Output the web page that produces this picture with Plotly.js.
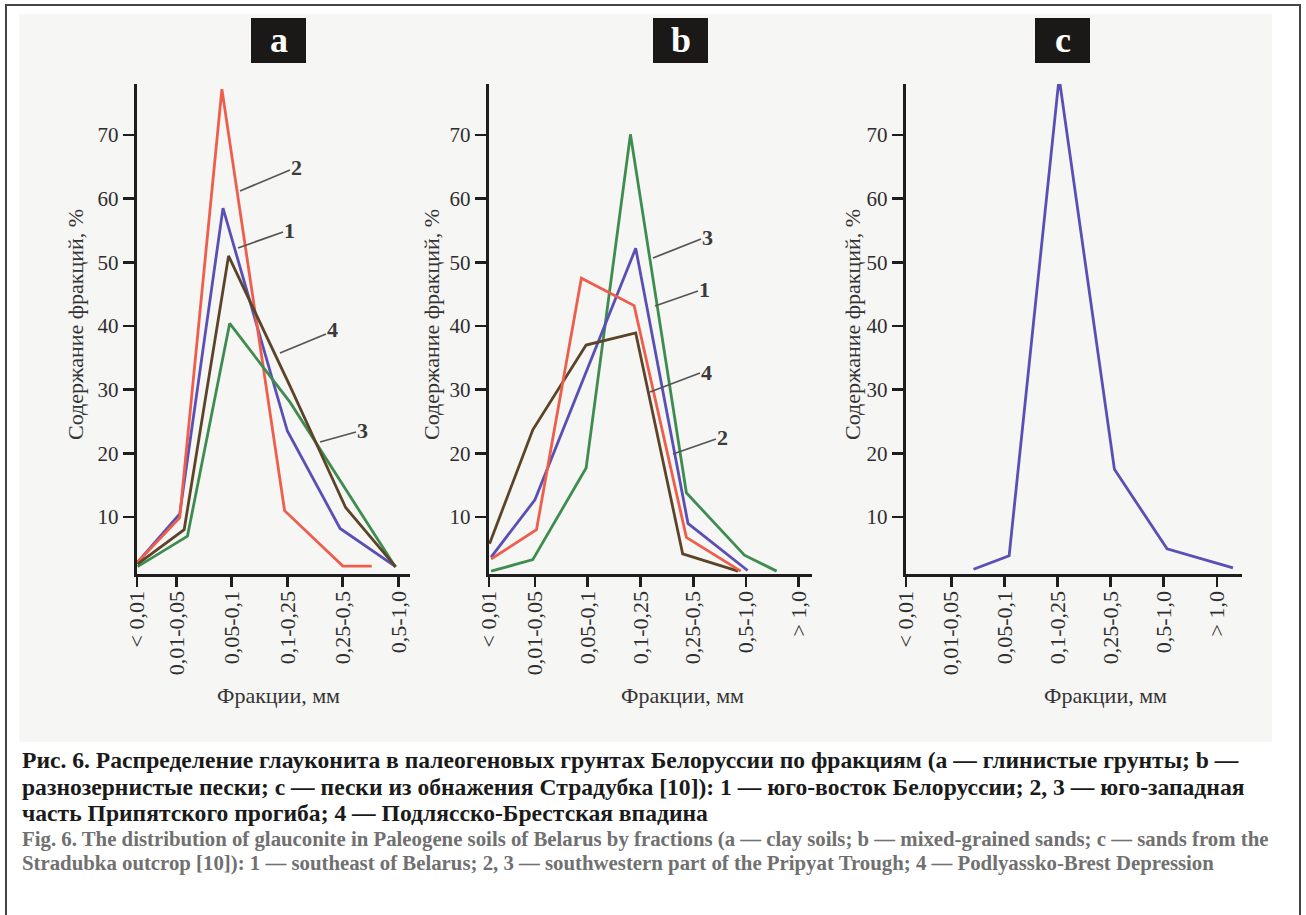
<!DOCTYPE html>
<html>
<head>
<meta charset="utf-8">
<script src="https://cdn.plot.ly/plotly-3.0.1.min.js"></script>
<style>html,body{margin:0;padding:0;background:#fff;}#chart{width:1306px;height:915px;}</style>
</head>
<body>
<div id="chart"></div>
<script>
// ---------- DATA ----------
const fractionLabels = ["< 0,01", "0,01-0,05", "0,05-0,1", "0,1-0,25", "0,25-0,5", "0,5-1,0", "> 1,0"];
const yTicks = [10, 20, 30, 40, 50, 60, 70];

// Panel a — clay soils (x = fraction position, y = content, %)
const a1_x = [0.3, 1.06, 1.84, 3.0, 3.95, 4.95];
const a1_y = [2.9, 10.5, 58.5, 23.5, 8.2, 2.2];
const a2_x = [0.3, 1.06, 1.82, 2.95, 4.0, 4.52];
const a2_y = [2.9, 9.9, 77.2, 11.0, 2.3, 2.3];
const a3_x = [0.3, 1.2, 1.96, 3.05, 4.95];
const a3_y = [2.2, 7.0, 40.4, 28.0, 2.1];
const a4_x = [0.3, 1.14, 1.94, 3.05, 4.05, 4.95];
const a4_y = [2.6, 8.0, 51.0, 30.5, 11.5, 2.2];

// Panel b — mixed-grained sands
const b1_x = [0.17, 1.0, 2.91, 3.9, 5.03];
const b1_y = [3.7, 12.7, 52.2, 9.0, 1.6];
const b2_x = [0.17, 1.03, 1.88, 2.88, 3.87, 4.9];
const b2_y = [3.4, 8.0, 47.5, 43.2, 6.8, 1.5];
const b3_x = [0.17, 0.96, 1.97, 2.81, 3.87, 4.97, 5.58];
const b3_y = [1.5, 3.3, 17.7, 70.1, 13.8, 4.0, 1.5];
const b4_x = [0.14, 0.96, 1.97, 2.91, 3.8, 4.85];
const b4_y = [5.8, 23.7, 37.0, 38.9, 4.2, 1.5];

// Panel c — sands from the Stradubka outcrop
const c1_x = [1.42, 2.09, 3.03, 4.07, 5.06, 6.3];
const c1_y = [1.8, 3.9, 79.0, 17.5, 5.0, 2.0];

const colors = {1: "#5a4fb4", 2: "#ee5e4c", 3: "#3f8c50", 4: "#5c4428"};

const captionRu = [
  "Рис. 6. Распределение глауконита в палеогеновых грунтах Белоруссии по фракциям (a — глинистые грунты; b —",
  "разнозернистые пески; c — пески из обнажения Страдубка [10]): 1 — юго-восток Белоруссии; 2, 3 — юго-западная",
  "часть Припятского прогиба; 4 — Подлясско-Брестская впадина"
];
const captionEn = [
  "Fig. 6. The distribution of glauconite in Paleogene soils of Belarus by fractions (a — clay soils; b — mixed-grained sands; c — sands from the",
  "Stradubka outcrop [10]): 1 — southeast of Belarus; 2, 3 — southwestern part of the Pripyat Trough; 4 — Podlyassko-Brest Depression"
];
const yTitle = "Содержание фракций, %";
const xTitle = "Фракции, мм";

// ---------- LAYOUT HELPERS ----------
const W = 1306, H = 915;
const px = x => x / W;
const py = y => 1 - y / H;
const SERIF = "Liberation Serif, Times New Roman, serif";

function line(xs, ys, c, xa, ya) {
  return {x: xs, y: ys, type: "scatter", mode: "lines", xaxis: xa, yaxis: ya,
          line: {color: colors[c], width: 2.8}, cliponaxis: false, hoverinfo: "skip", showlegend: false};
}

const data = [
  line(a1_x, a1_y, 1, "x", "y"), line(a2_x, a2_y, 2, "x", "y"),
  line(a3_x, a3_y, 3, "x", "y"), line(a4_x, a4_y, 4, "x", "y"),
  line(b3_x, b3_y, 3, "x2", "y2"), line(b1_x, b1_y, 1, "x2", "y2"),
  line(b4_x, b4_y, 4, "x2", "y2"), line(b2_x, b2_y, 2, "x2", "y2"),
  line(c1_x, c1_y, 1, "x3", "y3")
];

const yTop = 84, yBot = 574;
function xAxis(left, right, tickPos, nLabels, range, anchor) {
  return {
    domain: [px(left), px(right)], anchor: anchor, range: range,
    tickmode: "array", tickvals: tickPos, ticktext: fractionLabels.slice(0, nLabels),
    tickangle: -90, ticks: "outside", ticklen: 10, tickwidth: 2.8, tickcolor: "#1e1e1e",
    ticklabelstandoff: -5,
    showline: true, linewidth: 3.2, linecolor: "#1e1e1e", showgrid: false, zeroline: false,
    tickfont: {family: SERIF, size: 22, color: "#2e2e2e"}, fixedrange: true
  };
}
function yAxis(anchor) {
  return {
    domain: [py(yBot), py(yTop)], anchor: anchor, range: [1.05, 78.0],
    tickmode: "array", tickvals: yTicks, ticktext: yTicks.map(String),
    ticks: "outside", ticklen: 11, tickwidth: 2.8, tickcolor: "#1e1e1e",
    showline: true, linewidth: 3.2, linecolor: "#1e1e1e", showgrid: false, zeroline: false,
    tickfont: {family: SERIF, size: 21, color: "#2e2e2e"}, fixedrange: true
  };
}

const aTicks = [0.29, 1, 2, 3, 4, 5];
const bTicks = [0.13, 1, 2, 3, 4, 5, 6];
const cTicks = [0.15, 1, 2, 3, 4, 5, 6];

const shapes = [
  {type: "rect", xref: "paper", yref: "paper", x0: px(6), x1: px(1300), y0: py(922), y1: py(5),
   line: {color: "#444", width: 2}, fillcolor: "#ffffff", layer: "below"},
  {type: "rect", xref: "paper", yref: "paper", x0: px(19), x1: px(1272), y0: py(742), y1: py(14),
   line: {width: 0}, fillcolor: "#f6f6f4", layer: "below"},
  {type: "rect", xref: "paper", yref: "paper", x0: px(251), x1: px(306), y0: py(63), y1: py(18),
   line: {width: 0}, fillcolor: "#1b1918", layer: "below"},
  {type: "rect", xref: "paper", yref: "paper", x0: px(653), x1: px(708), y0: py(63), y1: py(18),
   line: {width: 0}, fillcolor: "#1b1918", layer: "below"},
  {type: "rect", xref: "paper", yref: "paper", x0: px(1035), x1: px(1090), y0: py(63), y1: py(18),
   line: {width: 0}, fillcolor: "#1b1918", layer: "below"}
];

const annotations = [];
function ann(text, x, y, opts) {
  annotations.push(Object.assign({text: text, xref: "paper", yref: "paper", x: px(x), y: py(y),
    showarrow: false, xanchor: "center", yanchor: "middle",
    font: {family: SERIF, size: 16, color: "#333"}}, opts || {}));
}
// panel letters
[["a", 278.5], ["b", 680.5], ["c", 1062.5]].forEach(([t, x]) =>
  ann("<b>" + t + "</b>", x, 40, {font: {family: SERIF, size: 36, color: "#ffffff"}}));

// axis titles
[76, 432, 853].forEach(x => ann(yTitle, x, 325, {textangle: -90, font: {family: SERIF, size: 22, color: "#333"}}));
[278, 682, 1105].forEach(x => ann(xTitle, x, 695, {font: {family: SERIF, size: 22, color: "#333"}}));

// series labels with leader lines
const seriesLabels = [
  ["2", 296, 167, 240, 191, 290, 170],
  ["1", 289, 230, 238, 248, 283, 232],
  ["4", 332, 330, 280, 353, 326, 334],
  ["3", 362, 430, 320, 442, 356, 432],
  ["3", 707, 237, 653, 258, 701, 239],
  ["1", 704, 289, 655, 306, 698, 291],
  ["4", 706, 372, 650, 392, 700, 373],
  ["2", 722, 437, 673, 454, 716, 439]
];
seriesLabels.forEach(([t, tx, ty, x0, y0, x1, y1]) => {
  ann("<b>" + t + "</b>", tx, ty, {font: {family: SERIF, size: 22, color: "#3a3a3a"}});
  shapes.push({type: "line", xref: "paper", yref: "paper", x0: px(x0), y0: py(y0), x1: px(x1), y1: py(y1),
               line: {color: "#555", width: 1.8}});
});

// captions
captionRu.forEach((t, i) => ann("<b>" + t + "</b>", 20, 760 + i * 26.5,
  {xanchor: "left", font: {family: SERIF, size: 23.6, color: "#1a1a1a"}}));
captionEn.forEach((t, i) => ann("<b>" + t + "</b>", 20, 839 + i * 24,
  {xanchor: "left", font: {family: SERIF, size: 20.8, color: "#707070"}}));

const layout = {
  width: W, height: H, margin: {l: 0, r: 0, t: 0, b: 0},
  paper_bgcolor: "#ffffff", plot_bgcolor: "rgba(0,0,0,0)", showlegend: false,
  xaxis: xAxis(137, 410, aTicks, 6, [0.29, 5.21], "y"),
  yaxis: yAxis("x"),
  xaxis2: xAxis(489, 812, bTicks, 7, [0.13, 6.25], "y2"),
  yaxis2: yAxis("x2"),
  xaxis3: xAxis(906, 1242, cTicks, 7, [0.15, 6.47], "y3"),
  yaxis3: yAxis("x3"),
  shapes: shapes, annotations: annotations
};

Plotly.newPlot("chart", data, layout, {staticPlot: true, displayModeBar: false});
</script>
</body>
</html>
